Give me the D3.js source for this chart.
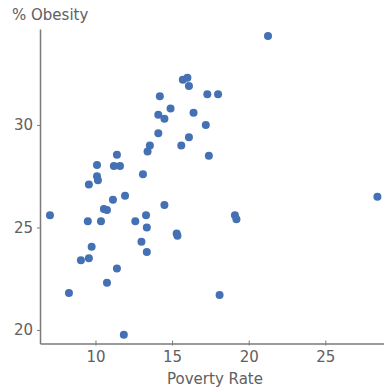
<!DOCTYPE html>
<html><head><meta charset="utf-8">
<script src="https://cdn.jsdelivr.net/npm/d3@7"></script>
<style>html,body{margin:0;padding:0;background:#fff;}svg{display:block;}</style>
</head><body>
<script>
const povertyRate = [21.26,7.03,8.27,9.05,9.57,9.75,9.5,10.36,10.55,10.75,11.14,11.93,9.57,10.1,10.16,10.1,11.2,11.6,11.4,13.1,11.85,11.4,10.75,12.6,13.3,13.35,13.0,13.35,14.5,15.3,15.35,19.1,19.2,18.1,28.4,13.55,13.4,14.1,14.2,14.5,14.1,14.9,15.6,16.1,15.7,16.0,16.1,17.3,18.0,16.4,17.2,17.4];
const obesity = [34.34,25.6,21.8,23.4,23.5,24.06,25.3,25.3,25.9,25.85,26.35,26.55,27.1,27.5,27.3,28.05,28.0,28.0,28.55,27.6,19.77,23.0,22.3,25.3,25.6,25.0,24.3,23.8,26.1,24.7,24.6,25.6,25.4,21.7,26.5,29.0,28.7,29.6,31.4,30.3,30.5,30.8,29.0,29.4,32.2,32.3,31.9,31.5,31.5,30.6,30.0,28.5];
const xTicks = [10,15,20,25];
const yTicks = [20,25,30];
const xTitle = "Poverty Rate";
const yTitle = "% Obesity";

const W = 384, H = 389;
const svg = d3.select("body").append("svg").attr("width", W).attr("height", H);
const x = d3.scaleLinear().domain([6.38, 28.83]).range([40, 384]);
const y = d3.scaleLinear().domain([19.34, 34.68]).range([343.5, 29]);
const font = "DejaVu Sans, Verdana, sans-serif";
const axisCol = "#7a7a7a", textCol = "#606060";

const gx = svg.append("g").attr("transform", "translate(0,343.5)")
  .call(d3.axisBottom(x).tickValues(xTicks).tickSize(3).tickSizeOuter(0).tickPadding(5).tickFormat(d3.format("d")));
const gy = svg.append("g").attr("transform", "translate(40,0)")
  .call(d3.axisLeft(y).tickValues(yTicks).tickSize(3).tickSizeOuter(0).tickPadding(4).tickFormat(d3.format("d")));
[gx, gy].forEach(g => {
  g.select(".domain").attr("stroke", axisCol).attr("stroke-width", 1.5);
  g.selectAll(".tick line").attr("stroke", axisCol);
  g.selectAll(".tick text").attr("fill", textCol).style("font-family", font).style("font-size", "15px");
});
gx.selectAll(".tick line").attr("y1", -3).attr("y2", 2);

svg.append("text").attr("x", 215).attr("y", 384).attr("text-anchor", "middle")
  .attr("fill", textCol).style("font-family", font).style("font-size", "15px").text(xTitle);
svg.append("text").attr("x", 12).attr("y", 20).attr("text-anchor", "start")
  .attr("fill", textCol).style("font-family", font).style("font-size", "15px").text(yTitle);

svg.append("g").selectAll("circle").data(povertyRate).join("circle")
  .attr("cx", d => x(d)).attr("cy", (d, i) => y(obesity[i])).attr("r", 4)
  .attr("fill", "#4470b4");
</script>
</body></html>
